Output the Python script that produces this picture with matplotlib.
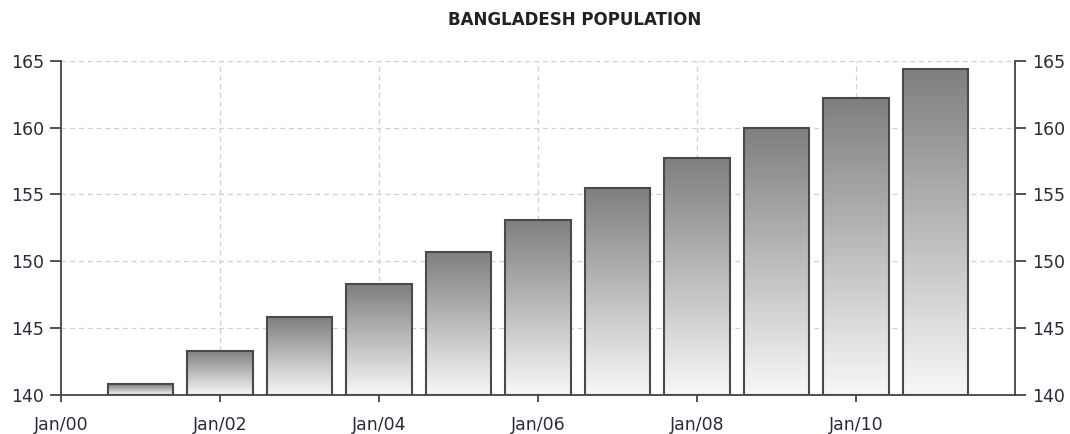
import numpy as np
import matplotlib
matplotlib.use('Agg')
import matplotlib.pyplot as plt
import matplotlib.dates as mdates
from datetime import datetime

# Bangladesh population, millions
years = [2001, 2002, 2003, 2004, 2005, 2006, 2007, 2008, 2009, 2010, 2011]
population = [140.8, 143.3, 145.8, 148.3, 150.7, 153.1, 155.5, 157.7, 160.0, 162.2, 164.4]
tick_years = [2000, 2002, 2004, 2006, 2008, 2010]

dates = [mdates.date2num(datetime(y, 1, 1)) for y in years]
bar_w = 300  # days

fig = plt.figure(figsize=(10.7, 4.34), dpi=100)
ax = fig.add_axes([0.057, 0.0906, 0.8916, 0.769])

# gradient image, dark on top fading to white at bottom
grad = np.linspace(0, 1, 256).reshape(-1, 1)
cmap = matplotlib.colors.LinearSegmentedColormap.from_list('g', ['#f8f8f8', '#7f7f7f'])

for d, v in zip(dates, population):
    ax.imshow(grad, extent=[d - bar_w / 2, d + bar_w / 2, 140, v], origin='lower',
              cmap=cmap, aspect='auto', zorder=2)
ax.bar(dates, [v - 140 for v in population], bottom=140, width=bar_w,
       facecolor='none', edgecolor='#4a4a4a', linewidth=1.5, zorder=3)

ax.set_xlim(mdates.date2num(datetime(2000, 1, 1)), mdates.date2num(datetime(2012, 1, 1)))
ax.set_ylim(140, 165)
ax.set_xticks([mdates.date2num(datetime(y, 1, 1)) for y in tick_years])
ax.set_xticklabels(['Jan/%02d' % (y % 100) for y in tick_years])
ax.set_yticks([140, 145, 150, 155, 160, 165])

ax.grid(True, linestyle=(0, (4, 3)), color='#d0d0d0', linewidth=0.9, zorder=0)
ax.set_axisbelow(True)

for s in ['left', 'bottom', 'right']:
    ax.spines[s].set_color('#444444')
    ax.spines[s].set_linewidth(1.3)
ax.spines['top'].set_visible(False)

ax.tick_params(axis='y', which='both', left=True, right=True, labelleft=True, labelright=True,
               length=8, width=1.3, color='#444444', labelsize=12.5, labelcolor='#2a2a3a', pad=4)
ax.tick_params(axis='x', length=5, width=1.3, color='#444444', labelsize=12.5,
               labelcolor='#2a2a3a', pad=10)

fig.text(0.5366, 0.955, 'BANGLADESH POPULATION', ha='center', va='center',
         fontsize=12, fontweight='bold', color='#222222')

fig.savefig('out.png', dpi=100)
